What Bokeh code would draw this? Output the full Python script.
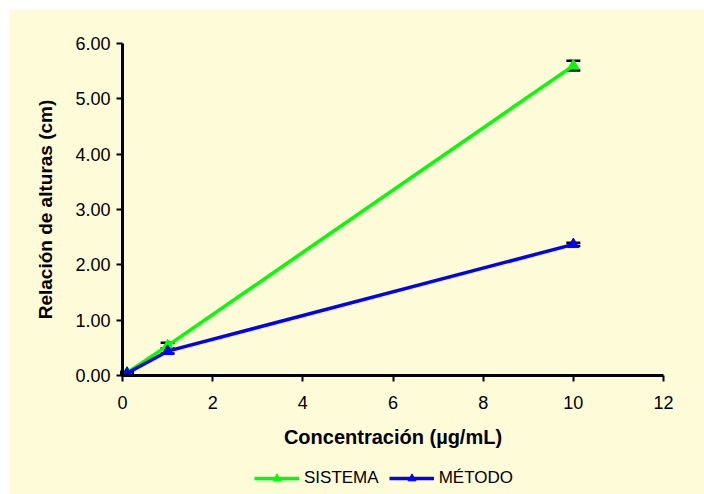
from bokeh.plotting import figure
from bokeh.models import (ColumnDataSource, Whisker, TeeHead, Legend, LegendItem,
                          NumeralTickFormatter, FixedTicker, LinearAxis)
from bokeh.embed import file_html
from bokeh.resources import INLINE

# Data
conc = [0.1, 1, 10]
sistema = [0.05, 0.54, 5.60]
sistema_err = [0.02, 0.05, 0.09]
metodo = [0.04, 0.44, 2.37]
metodo_err = [0.02, 0.04, 0.03]
x_ticks = [0, 2, 4, 6, 8, 10, 12]
y_ticks = [0, 1, 2, 3, 4, 5, 6]

FONT = "Liberation Sans"
BG = "#FEFCD8"

# The frame covers the whole chart area; axes are fixed at x=0 / y=0 with
# bounds so that their titles, tick labels and the legend sit inside it.
p = figure(width=695, height=485, x_range=(-2.507, 12.909), y_range=(-2.15, 6.614),
           output_backend="svg", toolbar_location=None,
           x_axis_location=None, y_axis_location=None,
           min_border_left=0, min_border_right=0, min_border_top=0, min_border_bottom=0)
p.margin = (9, 0, 0, 9)
p.background_fill_color = BG
p.border_fill_color = BG
p.outline_line_color = None
p.grid.visible = False

xaxis = LinearAxis(fixed_location=0, bounds=(0, 12))
yaxis = LinearAxis(fixed_location=0, bounds=(0, 6))
p.add_layout(xaxis, "below")
p.add_layout(yaxis, "left")

for ax in (xaxis, yaxis):
    ax.axis_line_width = 3
    ax.axis_line_color = "black"
    ax.major_tick_line_width = 2
    ax.major_tick_line_color = "black"
    ax.major_tick_in = 0
    ax.major_tick_out = 6
    ax.minor_tick_line_color = None
    ax.major_label_text_font = FONT
    ax.major_label_text_font_size = "18px"
    ax.major_label_text_color = "black"
    ax.axis_label_text_font = FONT
    ax.axis_label_text_font_style = "bold"
    ax.axis_label_text_font_size = "19px"
    ax.axis_label_text_color = "black"

xaxis.ticker = FixedTicker(ticks=x_ticks)
yaxis.ticker = FixedTicker(ticks=y_ticks)
yaxis.formatter = NumeralTickFormatter(format="0.00")
xaxis.axis_label = "Concentración (µg/mL)"
yaxis.axis_label = "Relación de alturas (cm)"
xaxis.axis_label_text_font_size = "20px"
xaxis.major_label_standoff = 14
xaxis.axis_label_standoff = 14
yaxis.major_label_standoff = 6
yaxis.axis_label_standoff = 16

src_s = ColumnDataSource(dict(x=conc, y=sistema,
                              lo=[a - b for a, b in zip(sistema, sistema_err)],
                              hi=[a + b for a, b in zip(sistema, sistema_err)]))
src_m = ColumnDataSource(dict(x=conc, y=metodo,
                              lo=[a - b for a, b in zip(metodo, metodo_err)],
                              hi=[a + b for a, b in zip(metodo, metodo_err)]))

ls = p.line("x", "y", source=src_s, line_color="#00FF00", line_width=3.5)
ms = p.scatter("x", "y", source=src_s, marker="triangle", size=11,
               fill_color="#00FF00", line_color="#00FF00")
lm = p.line("x", "y", source=src_m, line_color="#0000FF", line_width=3.5)
mm = p.scatter("x", "y", source=src_m, marker="triangle", size=11,
               fill_color="#0000FF", line_color="#0000FF")

for src in (src_s, src_m):
    w = Whisker(base="x", lower="lo", upper="hi", source=src,
                line_color="black", line_width=1.5,
                upper_head=TeeHead(size=14, line_width=2.5, line_color="black"),
                lower_head=TeeHead(size=14, line_width=2.5, line_color="black"))
    p.add_layout(w)

legend = Legend(items=[LegendItem(label="SISTEMA", renderers=[ls, ms]),
                       LegendItem(label="MÉTODO", renderers=[lm, mm])],
                orientation="horizontal", location=(245, 6),
                glyph_width=45, glyph_height=20, label_standoff=5, spacing=10,
                padding=0, margin=0, border_line_color=None,
                background_fill_alpha=0,
                label_text_font=FONT, label_text_font_size="17px",
                label_text_color="black")
p.add_layout(legend)

open("out.html", "w").write(file_html(p, INLINE))
